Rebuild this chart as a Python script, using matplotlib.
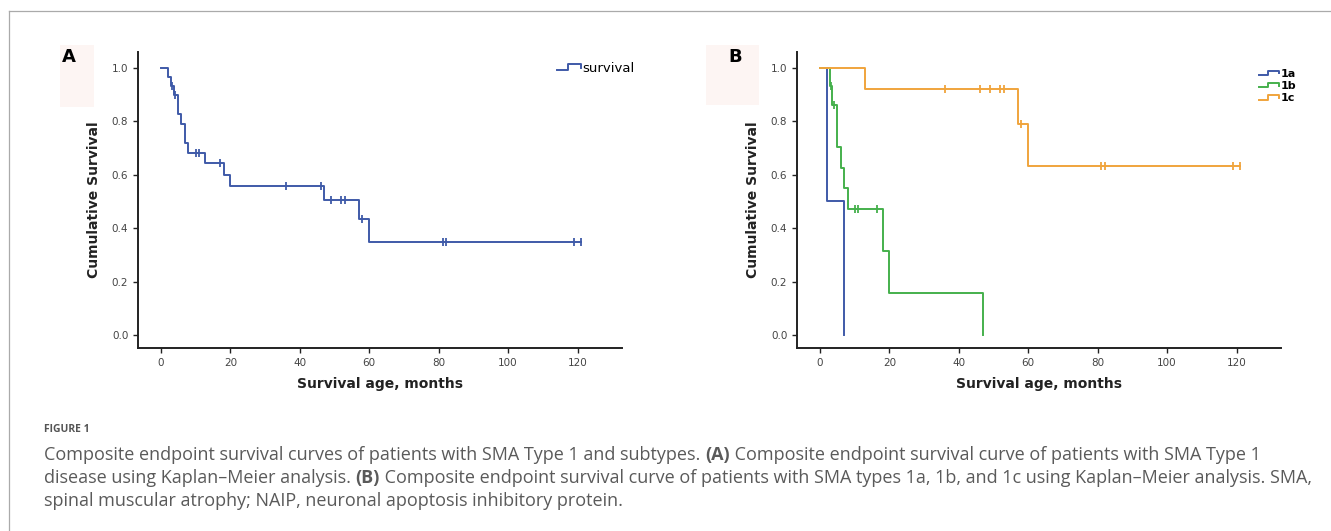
import numpy as np
import matplotlib
matplotlib.use("Agg")
import matplotlib.pyplot as plt
from matplotlib.lines import Line2D
from matplotlib.patches import Rectangle
from matplotlib.legend_handler import HandlerBase

# ---- data ----
# panel A: all SMA type 1 patients
a_times = [0, 2, 2.9, 3.8, 4.8, 5.9, 6.9, 7.8, 12.8, 18.1, 20, 47, 57, 60, 121]
a_surv = [1.0, 0.967, 0.933, 0.900, 0.827, 0.791, 0.719, 0.683, 0.643, 0.600, 0.557, 0.506, 0.434, 0.347, 0.347]
a_censor = [3.2, 4.2, 10, 11, 17, 36, 46.2, 49, 52, 53, 58, 81.3, 82, 119, 121]

# panel B: subtypes
b_labels = ["1a", "1b", "1c"]
b_times = [
    [0, 2, 7],
    [0, 2.8, 3.6, 4.9, 6, 6.9, 8, 18.2, 20, 47],
    [0, 13, 57, 60, 121],
]
b_surv = [
    [1.0, 0.5, 0.0],
    [1.0, 0.933, 0.862, 0.705, 0.627, 0.549, 0.470, 0.313, 0.157, 0.0],
    [1.0, 0.923, 0.791, 0.633, 0.633],
]
b_censor = [
    [],
    [3.1, 4.2, 10.2, 10.9, 16.4],
    [36, 46, 49, 52, 53, 58, 81, 82, 119, 121],
]

BLUE = "#3f5aa8"
GREEN = "#45b04c"
ORANGE = "#f0a43c"
b_colors = [BLUE, GREEN, ORANGE]

W, H = 1331, 531


class StepHandler(HandlerBase):
    # legend icon drawn as a small step, like SPSS survival plots
    def create_artists(self, legend, orig, xd, yd, width, height, fontsize, trans):
        x = np.array([0, 0.45, 0.45, 1.0, 1.0]) * width - xd
        y = np.array([0.2, 0.2, 0.8, 0.8, 0.45]) * height - yd
        ln = Line2D(x, y, color=orig.get_color(), lw=orig.get_linewidth(), transform=trans)
        return [ln]


def censor_levels(times, surv, cens):
    idx = np.searchsorted(times, cens, side="right") - 1
    return np.asarray(surv)[idx]


def style_axes(ax):
    for s in ["top", "right"]:
        ax.spines[s].set_visible(False)
    for s in ["left", "bottom"]:
        ax.spines[s].set_linewidth(1.4)
        ax.spines[s].set_color("#222222")
    ax.set_xlim(-6.6, 132.8)
    ax.set_ylim(-0.049, 1.060)
    ax.set_xticks(np.arange(0, 121, 20))
    ax.set_yticks(np.arange(0, 1.01, 0.2))
    ax.set_yticklabels(["%.1f" % v for v in np.arange(0, 1.01, 0.2)])
    ax.tick_params(labelsize=7.5, length=3.5, width=1, color="#222", labelcolor="#444", pad=3.5)
    ax.set_xlabel("Survival age, months", fontsize=10, fontweight="bold", labelpad=7, color="#222")
    ax.set_ylabel("Cumulative Survival", fontsize=10, fontweight="bold", labelpad=8, color="#222")


fig = plt.figure(figsize=(W / 100, H / 100), dpi=100)

# outer frame of the figure box
fig.add_artist(Line2D([9 / W, 1], [1 - 11 / H, 1 - 11 / H], transform=fig.transFigure, color="#aaaaaa", lw=0.9))
fig.add_artist(Line2D([9 / W, 9 / W], [0, 1 - 11 / H], transform=fig.transFigure, color="#aaaaaa", lw=0.9))

# faint panel-letter boxes
fig.add_artist(Rectangle((60 / W, 1 - 107 / H), 34 / W, 62 / H, transform=fig.transFigure, color="#fdf5f3", lw=0))
fig.add_artist(Rectangle((706 / W, 1 - 105 / H), 53 / W, 60 / H, transform=fig.transFigure, color="#fdf5f3", lw=0))

axA = fig.add_axes([138 / W, 1 - 348 / H, 484 / W, 296 / H])
axB = fig.add_axes([797 / W, 1 - 348 / H, 484 / W, 296 / H])

# panel A
style_axes(axA)
lnA, = axA.step(a_times, a_surv, where="post", color=BLUE, lw=1.4, label="survival")
axA.plot(a_censor, censor_levels(a_times, a_surv, a_censor), ls="none",
         marker="|", ms=6, mew=1.3, color=BLUE)
axA.legend(handles=[lnA], loc="center left", bbox_to_anchor=(0.853, 0.945), frameon=False,
           fontsize=9.5, handlelength=1.8, handletextpad=0.1, borderpad=0,
           handler_map={Line2D: StepHandler()})

# panel B
style_axes(axB)
handles = []
for lab, t, s, c, col in zip(b_labels, b_times, b_surv, b_censor, b_colors):
    ln, = axB.step(t, s, where="post", color=col, lw=1.4, label=lab)
    handles.append(ln)
    if len(c):
        axB.plot(c, censor_levels(t, s, c), ls="none", marker="|", ms=6, mew=1.3, color=col)
axB.legend(handles=handles, loc="upper left", bbox_to_anchor=(0.943, 0.962), frameon=False,
           handlelength=1.8, handletextpad=0.15, labelspacing=0.2, borderpad=0,
           prop={"weight": "bold", "size": 8},
           handler_map={Line2D: StepHandler()})

fig.text(62 / W, 1 - 57 / H, "A", fontsize=13, fontweight="bold", va="center")
fig.text(728 / W, 1 - 57 / H, "B", fontsize=13, fontweight="bold", va="center")

# caption
cap = fig.add_axes([0, 0, 1, 1])
cap.set_xlim(0, W)
cap.set_ylim(H, 0)
cap.axis("off")
cap.set_zorder(-1)
cap.text(44, 430, "FIGURE 1", fontsize=7.5, color="#555555", family="Open Sans",
         fontweight="bold", va="center")

CAP_COLOR = "#5a5a5a"
CAP_SIZE = 13.0
lines = [
    [("Composite endpoint survival curves of patients with SMA Type 1 and subtypes. ", "normal"),
     ("(A)", "bold"),
     (" Composite endpoint survival curve of patients with SMA Type 1", "normal")],
    [("disease using Kaplan\u2013Meier analysis. ", "normal"),
     ("(B)", "bold"),
     (" Composite endpoint survival curve of patients with SMA types 1a, 1b, and 1c using Kaplan\u2013Meier analysis. SMA,", "normal")],
    [("spinal muscular atrophy; NAIP, neuronal apoptosis inhibitory protein.", "normal")],
]
for i, runs in enumerate(lines):
    y = 455 + 23 * i
    prev = None
    for txt, wt in runs:
        if prev is None:
            prev = cap.text(44, y, txt, fontsize=CAP_SIZE, color=CAP_COLOR, family="Open Sans",
                            fontweight=wt, va="center")
        else:
            prev = cap.annotate(txt, xy=(1, 0.5), xycoords=prev, va="center",
                                fontsize=CAP_SIZE, color=CAP_COLOR, family="Open Sans",
                                fontweight=wt)

fig.savefig("out.png", dpi=100)
